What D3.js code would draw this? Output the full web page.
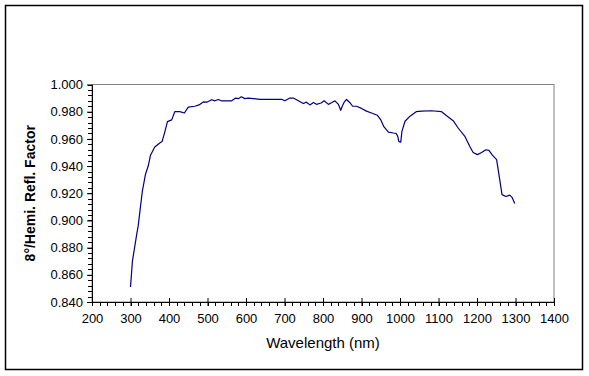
<!DOCTYPE html>
<html><head><meta charset="utf-8">
<script src="https://cdn.jsdelivr.net/npm/d3@7"></script>
<style>html,body{margin:0;padding:0;background:#fff;}svg{display:block;}</style>
</head><body>
<script>
const wavelength = [300,305,316,320,325,331,339,346,352,363,376,382,389,396,407,415,428,440,450,467,478,489,498,511,519,528,536,550,563,573,580,588,597,606,619,636,667,694,701,714,723,736,749,757,766,775,783,795,803,814,823,831,840,846,850,855,861,870,877,887,900,913,926,941,950,958,970,983,990,994,997,1002,1005,1013,1026,1042,1056,1082,1108,1121,1138,1151,1169,1182,1190,1201,1212,1223,1231,1240,1251,1258,1265,1275,1285,1291,1298];
const reflectance = [0.851,0.870,0.8896,0.896,0.908,0.922,0.934,0.940,0.948,0.954,0.957,0.958,0.965,0.9727,0.974,0.980,0.980,0.979,0.9834,0.984,0.985,0.9872,0.987,0.9888,0.988,0.989,0.988,0.988,0.988,0.990,0.9896,0.991,0.9896,0.990,0.9896,0.989,0.989,0.989,0.988,0.990,0.990,0.988,0.986,0.987,0.985,0.9867,0.9854,0.9864,0.988,0.9854,0.9867,0.988,0.9854,0.981,0.984,0.987,0.989,0.9866,0.984,0.984,0.9824,0.9804,0.979,0.9774,0.974,0.969,0.965,0.9643,0.964,0.962,0.958,0.9576,0.9655,0.973,0.9767,0.980,0.9804,0.9807,0.980,0.977,0.9734,0.968,0.9616,0.954,0.950,0.9484,0.950,0.952,0.9516,0.948,0.9447,0.9318,0.919,0.9176,0.9186,0.917,0.9124];
const xTicks = [200,300,400,500,600,700,800,900,1000,1100,1200,1300,1400];
const yTicks = [0.84,0.86,0.88,0.90,0.92,0.94,0.96,0.98,1.00];
const xTitle = "Wavelength (nm)";
const yTitle = "8°/Hemi. Refl. Factor";

const W = 589, H = 376;
const L = 92, R = 554, T = 84.5, B = 302;
const svg = d3.select("body").append("svg").attr("width", W).attr("height", H);
svg.append("rect").attr("x",0).attr("y",0).attr("width",W).attr("height",H).attr("fill","#fff");
svg.append("rect").attr("x",5.5).attr("y",5.5).attr("width",577).attr("height",364)
  .attr("fill","none").attr("stroke","#000").attr("stroke-width",1.5);

const x = d3.scaleLinear().domain([200,1400]).range([L,R]);
const y = d3.scaleLinear().domain([0.84,1.0]).range([B,T]);

// plot area border
svg.append("rect").attr("x",L).attr("y",T).attr("width",R-L).attr("height",B-T)
  .attr("fill","none").attr("stroke","#808080").attr("stroke-width",1);

const font = "'Liberation Sans', Arial, sans-serif";

// minor ticks
const xMinor = d3.range(200,1401,20);
svg.append("g").selectAll("line").data(xMinor).join("line")
  .attr("x1",d=>Math.round(x(d))+0.5).attr("x2",d=>Math.round(x(d))+0.5)
  .attr("y1",B).attr("y2",B+4).attr("stroke","#000");
const yMinor = d3.range(0,41).map(i=>0.84+i*0.004);
svg.append("g").selectAll("line").data(yMinor).join("line")
  .attr("x1",L-4).attr("x2",L)
  .attr("y1",d=>Math.round(y(d))+0.5).attr("y2",d=>Math.round(y(d))+0.5).attr("stroke","#000");

// x axis
const xAxis = d3.axisBottom(x).tickValues(xTicks).tickFormat(d3.format("d")).tickSizeInner(4).tickSizeOuter(0).tickPadding(8);
const gx = svg.append("g").attr("transform",`translate(0,${B})`).call(xAxis);
gx.selectAll("line").attr("y1",-4).attr("y2",4);
// y axis
const yAxis = d3.axisLeft(y).tickValues(yTicks).tickFormat(d3.format(".3f")).tickSizeInner(5).tickSizeOuter(0).tickPadding(4);
const gy = svg.append("g").attr("transform",`translate(${L},0)`).call(yAxis);
[gx,gy].forEach(g=>{
  g.select(".domain").attr("stroke","#000");
  g.selectAll("text").attr("font-family",font).attr("font-size",13).attr("fill","#000");
});

// line
const pts = wavelength.map((w,i)=>[w,reflectance[i]]);
svg.append("path").datum(pts)
  .attr("d", d3.line().x(d=>x(d[0])).y(d=>y(d[1])))
  .attr("fill","none").attr("stroke","#000080").attr("stroke-width",1.2).attr("stroke-linejoin","round");

// titles
svg.append("text").attr("x",(L+R)/2).attr("y",348).attr("text-anchor","middle")
  .attr("font-family",font).attr("font-size",15).text(xTitle);
svg.append("text").attr("transform",`translate(35,${(T+B)/2}) rotate(-90)`).attr("text-anchor","middle")
  .attr("font-family",font).attr("font-size",14).attr("font-weight","bold").text(yTitle);
</script>
</body></html>
